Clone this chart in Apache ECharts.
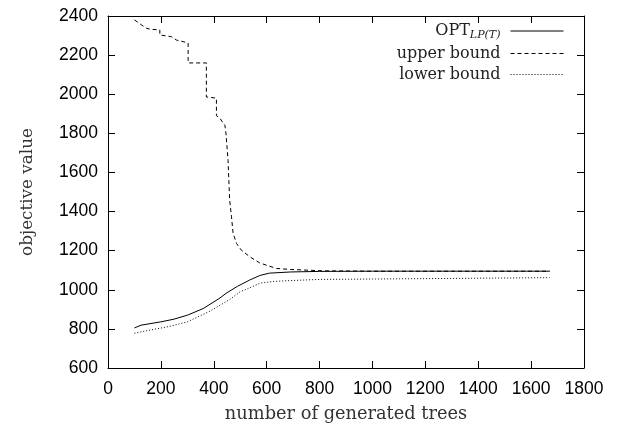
<!DOCTYPE html>
<html>
<head>
<meta charset="utf-8">
<script src="https://cdn.jsdelivr.net/npm/echarts@6/dist/echarts.min.js"></script>
<style>html,body{margin:0;padding:0;background:#fff;}#c{width:620px;height:430px;}</style>
</head>
<body>
<div id="c"></div>
<script>
var xTicks = [0, 200, 400, 600, 800, 1000, 1200, 1400, 1600, 1800];
var yTicks = [600, 800, 1000, 1200, 1400, 1600, 1800, 2000, 2200, 2400];
var seriesNames = ['OPT', 'upper bound', 'lower bound'];

var optLP = [[100,805],[125,819],[200,836],[250,850],[300,870],[360,904],[420,955],[450,985],[490,1018],[536,1050],[574,1073],[610,1085],[690,1091],[800,1094],[1000,1095],[1300,1095],[1670,1095]];
var upperBound = [[100,2380],[127,2354],[146,2337],[160,2332],[196,2329],[196,2303],[240,2294],[259,2277],[284,2269],[303,2262],[303,2160],[372,2160],[372,1986],[410,1980],[410,1890],[423,1878],[435,1853],[442,1842],[446,1801],[454,1660],[460,1459],[467,1373],[473,1289],[486,1237],[504,1203],[536,1169],[574,1137],[637,1109],[690,1104],[810,1097],[1000,1095],[1300,1095],[1670,1095]];
var lowerBound = [[100,778],[170,797],[230,812],[300,836],[385,890],[460,950],[500,990],[536,1010],[575,1034],[630,1043],[690,1047],[800,1053],[1000,1055],[1300,1058],[1670,1062]];

var chart = echarts.init(document.getElementById('c'));
var serif = '"DejaVu Serif", "Liberation Serif", serif';
var sans = '"Liberation Sans", Arial, sans-serif';
var axLine = {show: true, onZero: false, lineStyle: {color: '#000', width: 1}};
var axTick = {show: true, inside: true, length: 7, lineStyle: {color: '#000', width: 1}};
function plain(v) { return String(v); }
function baseX(pos, showLabel) {
  return {type: 'value', position: pos, min: xTicks[0], max: xTicks[xTicks.length-1], interval: 200,
    axisLine: axLine, axisTick: axTick, splitLine: {show: false},
    axisLabel: {show: showLabel, color: '#000', fontFamily: sans, fontSize: 17.5, margin: 12, formatter: plain}};
}
function baseY(pos, showLabel) {
  return {type: 'value', position: pos, min: yTicks[0], max: yTicks[yTicks.length-1], interval: 200,
    axisLine: axLine, axisTick: axTick, splitLine: {show: false},
    axisLabel: {show: showLabel, color: '#000', fontFamily: sans, fontSize: 17.5, margin: 10, formatter: plain}};
}
var xb = baseX('bottom', true);
xb.name = 'number of generated trees'; xb.nameLocation = 'middle'; xb.nameGap = 37;
xb.nameTextStyle = {fontFamily: serif, fontSize: 17.8, color: '#333'};
var yl = baseY('left', true);
yl.name = 'objective value'; yl.nameLocation = 'middle'; yl.nameGap = 72;
yl.nameTextStyle = {fontFamily: serif, fontSize: 16.8, color: '#333'};

chart.setOption({
  animation: false,
  grid: {left: 108, right: 36, top: 16, bottom: 62, containLabel: false, outerBoundsMode: 'none'},
  xAxis: [xb, baseX('top', false)],
  yAxis: [yl, baseY('right', false)],
  legend: {
    orient: 'vertical', right: 51, top: 18, align: 'right', itemWidth: 53, itemHeight: 12, itemGap: 5,
    data: seriesNames,
    itemStyle: {opacity: 0},
    lineStyle: {width: 1},
    textStyle: {fontFamily: serif, fontSize: 16, color: '#222', padding: [0, 5, 0, 0],
      rich: {
        a: {fontFamily: serif, fontSize: 16, color: '#222'},
        b: {fontFamily: serif, fontSize: 11, fontStyle: 'italic', color: '#222', padding: [8, 0, 0, 0]}
      }},
    formatter: function (n) { return n === 'OPT' ? '{a|OPT}{b|LP(T)}' : n; }
  },
  series: [
    {name: seriesNames[0], type: 'line', data: optLP, showSymbol: false, symbol: 'none',
      lineStyle: {color: '#000', width: 1, type: 'solid'}, itemStyle: {color: '#000'}},
    {name: seriesNames[1], type: 'line', data: upperBound, showSymbol: false, symbol: 'none',
      lineStyle: {color: '#000', width: 1, type: [4, 3]}, itemStyle: {color: '#000'}},
    {name: seriesNames[2], type: 'line', data: lowerBound, showSymbol: false, symbol: 'none',
      lineStyle: {color: '#000', width: 1, type: [1, 2]}, itemStyle: {color: '#000'}}
  ]
});
</script>
</body>
</html>
